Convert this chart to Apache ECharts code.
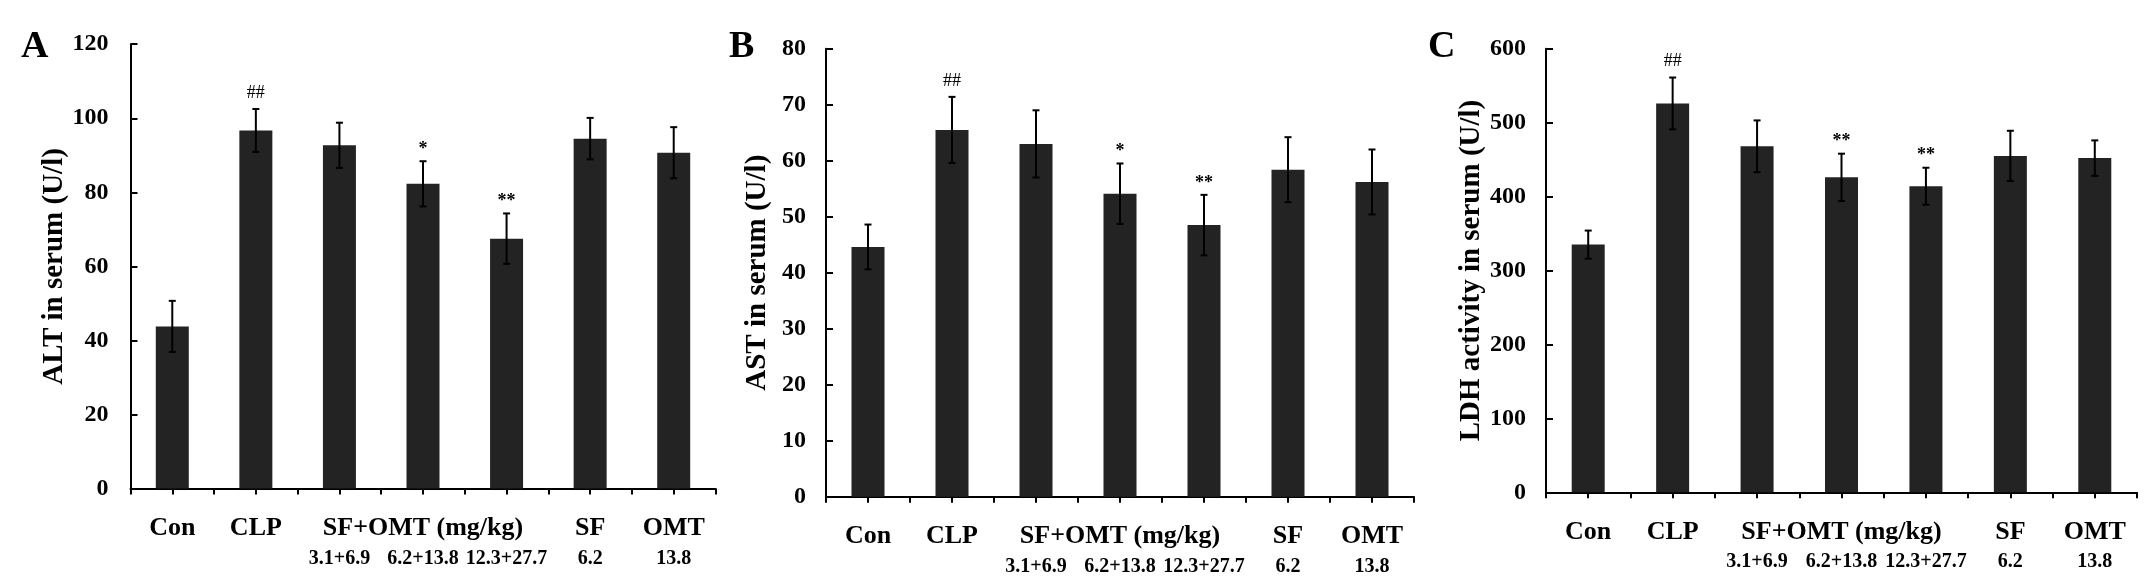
<!DOCTYPE html>
<html>
<head>
<meta charset="utf-8">
<script src="https://cdn.jsdelivr.net/npm/echarts@6/dist/echarts.min.js"></script>
<style>
html,body{margin:0;padding:0;background:#fff;}
#chart{width:2144px;height:588px;}
</style>
</head>
<body>
<div id="chart"></div>
<script>
// ---- data ----
const labelRow1 = ['Con', 'CLP', '', 'SF+OMT (mg/kg)', '', 'SF', 'OMT'];
const labelRow2 = ['', '', '3.1+6.9', '6.2+13.8', '12.3+27.7', '6.2', '13.8'];

const altMean = [43.8, 96.7, 92.7, 82.3, 67.5, 94.5, 90.7];
const altSD   = [6.9, 5.8, 6.1, 6.1, 6.8, 5.6, 6.9];
const altMarks = ['', '##', '', '*', '**', '', ''];

const astMean = [44.6, 65.5, 63.0, 54.1, 48.5, 58.4, 56.2];
const astSD   = [4.0, 5.9, 6.0, 5.4, 5.4, 5.8, 5.8];
const astMarks = ['', '##', '', '*', '**', '', ''];

const ldhMean = [335, 526, 468, 426, 414, 455, 452];
const ldhSD   = [19, 35, 35, 32, 25, 34, 24];
const ldhMarks = ['', '##', '', '**', '**', '', ''];

const panelLetters = ['A', 'B', 'C'];
const yTitles = ['ALT in serum (U/l)', 'AST in serum (U/l)', 'LDH activity in serum (U/l)'];
const yMax = [120, 80, 600];
const yStep = [20, 10, 100];

// ---- layout ----
const FONT = "'Liberation Serif', 'Times New Roman', serif";
const grids = [
  {left: 130.5, top: 44.2, width: 585, height: 444.4},
  {left: 826, top: 48.7, width: 588, height: 448},
  {left: 1546, top: 48.7, width: 591, height: 443.6}
];
const nameGaps = [60, 54, 58];
const yLabelMargins = [22, 20, 20];
const letterPos = [[21, 28], [729, 28], [1428, 28]];
const panels = [
  {mean: altMean, sd: altSD, marks: altMarks},
  {mean: astMean, sd: astSD, marks: astMarks},
  {mean: ldhMean, sd: ldhSD, marks: ldhMarks}
];

const cats = labelRow1.map((_, i) => 'c' + i);
const halfCats = Array.from({length: 14}, (_, i) => 'h' + i);

const xAxes = [], yAxes = [], series = [], graphics = [];
panels.forEach((p, g) => {
  xAxes.push({
    type: 'category', gridIndex: g, data: cats, boundaryGap: true,
    axisLine: {show: true, lineStyle: {color: '#000', width: 2}},
    axisTick: {show: false},
    axisLabel: {
      interval: 0, margin: 24, color: '#000',
      formatter: (v, idx) => '{a|' + (labelRow1[idx] || ' ') + '}\n{b|' + (labelRow2[idx] || ' ') + '}',
      rich: {
        a: {fontSize: 26, fontWeight: 'bold', fontFamily: FONT, lineHeight: 32, color: '#000'},
        b: {fontSize: 20, fontWeight: 'bold', fontFamily: FONT, lineHeight: 28, color: '#000'}
      }
    },
    splitLine: {show: false}
  });
  xAxes.push({
    type: 'category', gridIndex: g, data: halfCats, boundaryGap: true, position: 'bottom',
    axisLine: {show: false},
    axisTick: {show: true, length: 6, lineStyle: {color: '#000', width: 2}},
    axisLabel: {show: false},
    splitLine: {show: false}
  });
  yAxes.push({
    type: 'value', gridIndex: g, min: 0, max: yMax[g], interval: yStep[g],
    name: yTitles[g], nameLocation: 'middle', nameRotate: 90, nameGap: nameGaps[g],
    nameTextStyle: {fontSize: 29, fontWeight: 'bold', fontFamily: FONT, color: '#000'},
    axisLine: {show: true, lineStyle: {color: '#000', width: 2}},
    axisTick: {show: true, inside: true, length: 7, lineStyle: {color: '#000', width: 2}},
    axisLabel: {fontSize: 24, fontWeight: 'bold', fontFamily: FONT, color: '#000', margin: yLabelMargins[g]},
    splitLine: {show: false}
  });
  series.push({
    type: 'bar', xAxisIndex: g * 2, yAxisIndex: g,
    data: p.mean, barWidth: 33,
    itemStyle: {color: '#232323'},
    silent: true
  });
  series.push({
    type: 'custom', xAxisIndex: g * 2, yAxisIndex: g, z: 5, silent: true,
    data: p.mean.map((m, i) => [i, m, p.sd[i]]),
    renderItem: function (params, api) {
      const i = api.value(0), m = api.value(1), s = api.value(2);
      const top = api.coord([i, m + s]);
      const bot = api.coord([i, m - s]);
      const x = top[0], cap = 3.5;
      const st = {stroke: '#000', lineWidth: 2};
      const children = [
        {type: 'line', shape: {x1: x, y1: top[1], x2: x, y2: bot[1]}, style: st},
        {type: 'line', shape: {x1: x - cap, y1: top[1], x2: x + cap, y2: top[1]}, style: st},
        {type: 'line', shape: {x1: x - cap, y1: bot[1], x2: x + cap, y2: bot[1]}, style: st}
      ];
      const mk = p.marks[params.dataIndex];
      if (mk) {
        const isHash = mk.indexOf('#') >= 0;
        children.push({
          type: 'text',
          style: {
            text: mk, x: x, y: top[1] - (isHash ? 7 : 3),
            textAlign: 'center', textVerticalAlign: 'bottom',
            font: (isHash ? 'normal ' : 'bold ') + '18px ' + FONT,
            fill: '#000'
          }
        });
      }
      return {type: 'group', children: children};
    }
  });
  graphics.push({
    type: 'text', left: letterPos[g][0], top: letterPos[g][1],
    style: {text: panelLetters[g], font: 'bold 38px ' + FONT, fill: '#000'}
  });
});

const chart = echarts.init(document.getElementById('chart'), null, {renderer: 'canvas'});
chart.setOption({
  backgroundColor: '#fff',
  animation: false,
  grid: grids,
  xAxis: xAxes,
  yAxis: yAxes,
  series: series,
  graphic: graphics
});
</script>
</body>
</html>
